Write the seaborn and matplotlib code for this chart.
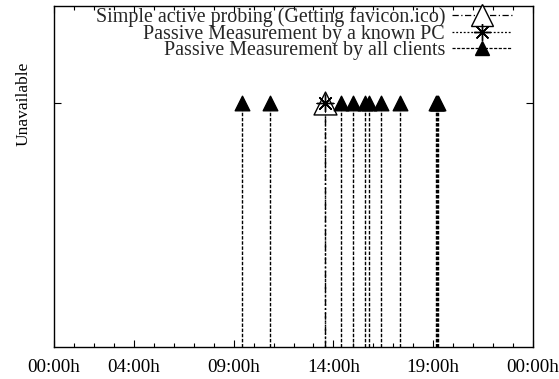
import matplotlib
matplotlib.use("Agg")
import matplotlib.pyplot as plt
from matplotlib.lines import Line2D
import seaborn as sns
import pandas as pd

# Outage events (hour of day) observed by each method
active_probe_hours = [13.6]
known_pc_hours = [13.6]
all_clients_hours = [9.43, 10.82, 14.38, 15.0, 15.58, 15.78, 16.37, 17.35,
                     19.14, 19.19, 19.24]
state_level = 1.0  # "Unavailable"

xtick_pos = [0, 4, 9, 14, 19, 24]
xtick_labels = ["00:00h", "04:00h", "09:00h", "14:00h", "19:00h", "00:00h"]
ytick_labels = ["Unavailable"]

series_names = ["Simple active probing (Getting favicon.ico)",
                "Passive Measurement by a known PC",
                "Passive Measurement by all clients"]

sns.set_theme(style="ticks")
plt.rcParams["font.family"] = ["Liberation Serif", "DejaVu Serif"]
plt.rcParams["font.size"] = 14.4
plt.rcParams["xtick.labelsize"] = 13.8
plt.rcParams["ytick.labelsize"] = 12.5
plt.rcParams["legend.fontsize"] = 14.4

fig = plt.figure(figsize=(5.59, 3.79), dpi=100)
ax = fig.add_axes([54 / 559, 1 - 347 / 379, (533 - 54) / 559, (347 - 6) / 379])

styles = [
    dict(ls=(0, (5, 2, 1, 2)), marker="^", ms=16.5, mfc="white", mew=1.0),
    dict(ls=(0, (1.5, 1.5)), marker=(8, 2, 0), ms=12, mfc="black", mew=1.0),
    dict(ls=(0, (2.5, 1.2)), marker="^", ms=10.5, mfc="black", mew=1.0),
]
series = [active_probe_hours, known_pc_hours, all_clients_hours]

frames = []
for name, hours in zip(series_names, series):
    frames.append(pd.DataFrame({"hour": hours, "state": [state_level] * len(hours),
                                "method": name}))
df = pd.concat(frames, ignore_index=True)

handles = []
for name, st in zip(series_names, styles):
    sub = df[df["method"] == name]
    # impulses from baseline up to the state level
    ax.vlines(sub["hour"], 0, sub["state"], colors="black", linewidth=1.0,
              linestyles=[st["ls"]], zorder=2)
    sns.scatterplot(data=sub, x="hour", y="state", ax=ax, marker=st["marker"],
                    s=st["ms"] ** 2, color=st["mfc"], edgecolor="black",
                    linewidth=st["mew"], zorder=3, legend=False)
    handles.append(Line2D([], [], color="black", lw=0.9, ls=st["ls"],
                          marker=st["marker"], ms=st["ms"], mfc=st["mfc"],
                          mec="black", mew=st["mew"]))

ax.set_xlim(0, 24)
ax.set_ylim(0, 1.4)
ax.set_xticks(xtick_pos)
ax.set_xticklabels(xtick_labels)
ax.set_xticks(range(0, 25), minor=True)
ax.set_yticks([state_level])
ax.set_yticklabels(ytick_labels, rotation=90, va="center")
ax.set_xlabel("")
ax.set_ylabel("")

ax.tick_params(axis="both", which="both", direction="in", top=True, right=True,
               colors="black")
ax.tick_params(axis="both", which="major", length=5, width=0.8, pad=9)
ax.tick_params(axis="x", which="minor", length=3, width=0.8)
ax.tick_params(axis="y", which="major", pad=16)
for sp in ax.spines.values():
    sp.set_visible(True)
    sp.set_color("black")
    sp.set_linewidth(1.0)

leg = ax.legend(handles, series_names, loc="upper right", markerfirst=False,
                frameon=False, handlelength=3.0, handletextpad=0.35,
                labelspacing=-0.12, borderaxespad=0.0, borderpad=0.0,
                bbox_to_anchor=((512 - 54) / 479, 1 - 1 / 341))

fig.savefig("out.png", dpi=100)
